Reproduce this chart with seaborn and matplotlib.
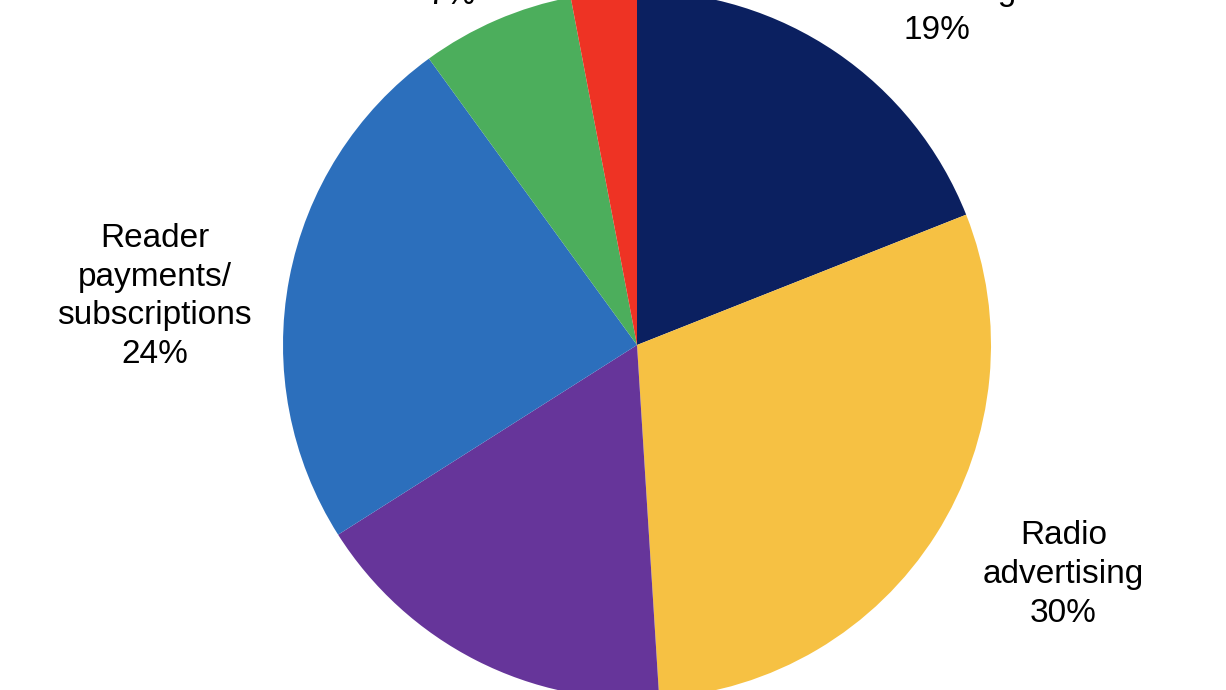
import matplotlib
matplotlib.use("Agg")
import matplotlib.pyplot as plt
import seaborn as sns

sns.set_theme(style="white")
plt.rcParams["font.family"] = ["Liberation Sans", "DejaVu Sans"]

# revenue shares, clockwise from 12 o'clock
categories = ["Print\nadvertising", "Radio\nadvertising", "Grants and\ndonations",
              "Reader\npayments/\nsubscriptions", "Events", "Other"]
shares = [19, 30, 17, 24, 7, 3]
colors = ["#0B2060", "#F6C143", "#66359A", "#2C6FBC", "#4CAE5C", "#EE3324"]

# label anchor points (data coords, pie radius = 1); None = outside the crop
label_xy = [(0.846, 0.864), (1.205, -0.782), None,
            (-1.362, -0.051), (-0.523, 0.963), None]

fig = plt.figure(figsize=(12.26, 6.9), dpi=100)
ax = fig.add_axes([0, 0, 1, 1])
ax.pie(shares, colors=colors, startangle=90, counterclock=False,
       wedgeprops=dict(linewidth=0))

for name, val, xy in zip(categories, shares, label_xy):
    if xy is None:
        continue
    ax.text(xy[0], xy[1], f"{name}\n{val}%", ha="center", va="baseline",
            fontsize=24, linespacing=1.32, color="black", multialignment="center")

r = 354.0
ax.set_xlim(-637 / r, (1226 - 637) / r)
ax.set_ylim(-(690 - 345) / r, 345 / r)
ax.set_aspect("equal", adjustable="box")
ax.axis("off")

fig.savefig("out.png", dpi=100)
